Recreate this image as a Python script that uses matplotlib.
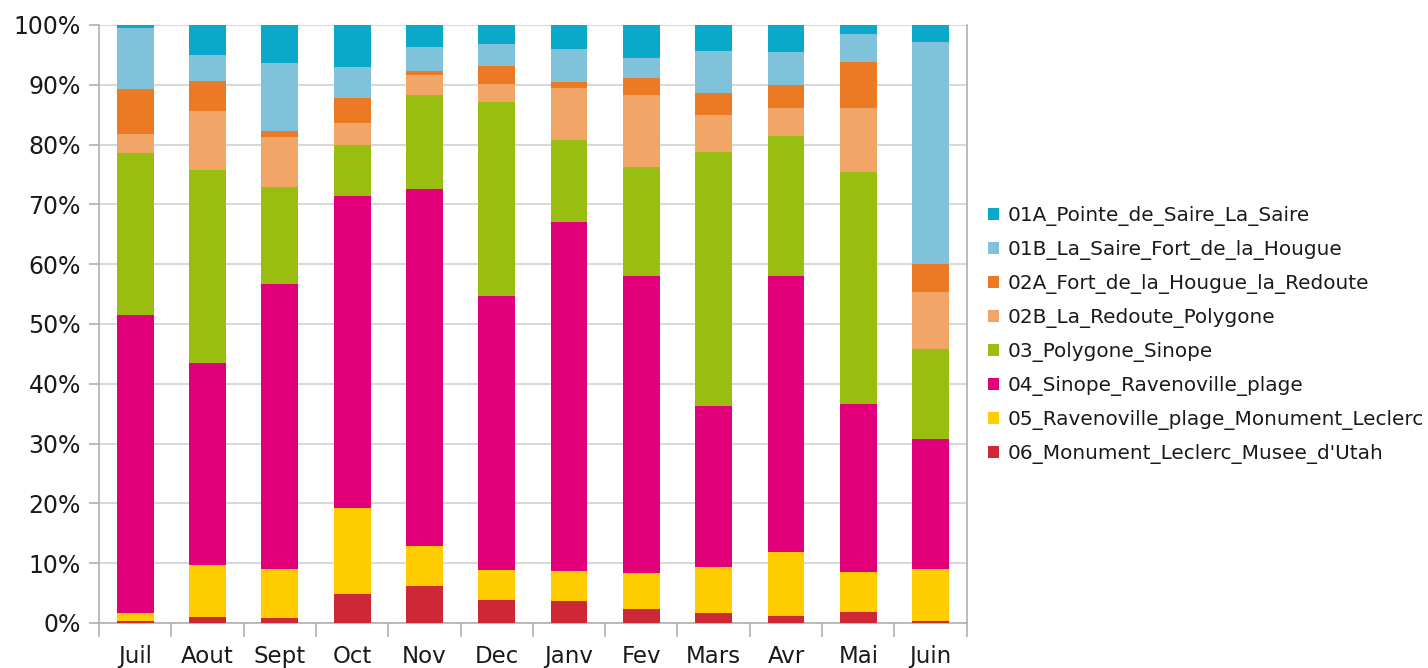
import numpy as np
import matplotlib.pyplot as plt
from matplotlib.ticker import FuncFormatter

# ----- Data (shares in %) -----
months = ['Juil', 'Aout', 'Sept', 'Oct', 'Nov', 'Dec', 'Janv', 'Fev', 'Mars', 'Avr', 'Mai', 'Juin']

s06 = [0.3, 1.0, 0.8, 4.8, 6.2, 3.8, 3.7, 2.3, 1.7, 1.2, 1.8, 0.3]
s05 = [1.4, 8.7, 8.2, 14.4, 6.7, 5.1, 5.0, 6.1, 7.7, 10.7, 6.7, 8.7]
s04 = [49.8, 33.7, 47.7, 52.2, 59.7, 45.8, 58.3, 49.7, 26.9, 46.2, 28.1, 21.8]
s03 = [27.1, 32.4, 16.2, 8.5, 15.7, 32.4, 13.8, 18.2, 42.5, 23.3, 38.8, 15.0]
s02b = [3.2, 9.8, 8.4, 3.7, 3.3, 3.0, 8.7, 12.0, 6.1, 4.7, 10.7, 9.5]
s02a = [7.5, 5.0, 1.0, 4.2, 0.7, 3.0, 1.0, 2.8, 3.7, 3.9, 7.7, 4.8]
s01b = [10.2, 4.4, 11.3, 5.2, 4.0, 3.7, 5.5, 3.4, 7.1, 5.5, 4.7, 37.1]
s01a = [0.5, 5.0, 6.4, 7.0, 3.7, 3.2, 4.0, 5.5, 4.3, 4.5, 1.5, 2.8]

names = ['01A_Pointe_de_Saire_La_Saire', '01B_La_Saire_Fort_de_la_Hougue',
         '02A_Fort_de_la_Hougue_la_Redoute', '02B_La_Redoute_Polygone',
         '03_Polygone_Sinope', '04_Sinope_Ravenoville_plage',
         '05_Ravenoville_plage_Monument_Leclerc', '06_Monument_Leclerc_Musee_d\'Utah']
colors = ['#0AA8C9', '#80C2DA', '#EC7A25', '#F1A567', '#99BE0F', '#E2007A', '#FFCD00', '#CE2836']

# ----- Plot -----
series = [s01a, s01b, s02a, s02b, s03, s04, s05, s06]
data = np.array(series, dtype=float)
data = data / data.sum(axis=0) * 100  # normalise each month to 100 %

fig = plt.figure(figsize=(14.28, 6.68), dpi=100)
ax = fig.add_axes([0.0693, 0.0674, 0.6077, 0.8952])

x = np.arange(len(months))
bottom = np.zeros(len(months))
handles = [None] * len(series)
# stack from bottom (06) to top (01A)
for i in range(len(series) - 1, -1, -1):
    handles[i] = ax.bar(x, data[i], 0.51, bottom=bottom, color=colors[i], label=names[i], zorder=3)
    bottom += data[i]

ax.set_xlim(-0.5, len(months) - 0.5)
ax.set_ylim(0, 100)
ax.set_yticks(np.arange(0, 101, 10))
ax.yaxis.set_major_formatter(FuncFormatter(lambda v, p: '%d%%' % v))
ax.grid(axis='y', color='#D9D9D9', linewidth=1.5, zorder=0)

# category labels, ticks at boundaries
ax.set_xticks(x)
ax.set_xticklabels(months, fontsize=16.5, fontfamily='DejaVu Sans', color='#1A1A1A')
ax.tick_params(axis='x', which='major', length=0, pad=16)
ax.set_xticks(np.arange(-0.5, len(months), 1), minor=True)
ax.tick_params(axis='x', which='minor', length=10, color='#B0B0B0', width=1.2)
ax.tick_params(axis='y', length=7, color='#B0B0B0', width=1.2, labelsize=17, pad=6,
               labelcolor='#1A1A1A')

for side in ['left', 'bottom', 'right']:
    ax.spines[side].set_color('#B0B0B0')
    ax.spines[side].set_linewidth(1.2)
ax.spines['top'].set_visible(False)

leg = fig.legend(handles=handles, labels=names, loc='center left',
                 bbox_to_anchor=(0.679, 0.498), frameon=False,
                 prop={'family': 'DejaVu Sans', 'size': 14.4},
                 handlelength=0.55, handleheight=0.55, handletextpad=0.45,
                 labelspacing=0.7, labelcolor='#1A1A1A')

plt.savefig('out.png', dpi=100)
